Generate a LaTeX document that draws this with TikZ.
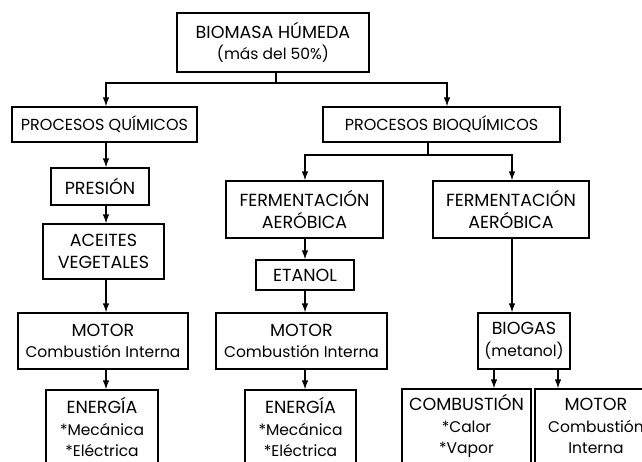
\documentclass[tikz,border=0pt]{standalone}
\usepackage{fontspec}
\setmainfont{Poppins}
\usetikzlibrary{arrows.meta,calc}
\newcommand{\capl}[1]{{\fontsize{17.5}{21.5}\selectfont #1}}
\newcommand{\lowl}[1]{{\fontsize{15.5}{21.5}\selectfont #1}}
\begin{document}
\begin{tikzpicture}[x=1pt,y=-1pt,
  box/.style={draw, line width=1.2pt, rectangle, align=center, inner sep=0pt,
    font=\fontsize{15.5}{21.5}\selectfont},
  arr/.style={line width=1.2pt, -{Latex[length=9pt,width=6.5pt]}},
  ln/.style={line width=1.2pt}]
\useasboundingbox (0,0) rectangle (642,461);
\clip (0,0) rectangle (642,461);
% boxes
\node[box, minimum width=192pt, minimum height=59pt] (bio) at (273,42.5) {\capl{BIOMASA HÚMEDA}\\\lowl{(más del 50\%)}};
\node[box, minimum width=185pt, minimum height=35pt] (pq) at (104.5,124.5) {\fontsize{16}{20}\selectfont PROCESOS QUÍMICOS};
\node[box, minimum width=237pt, minimum height=35pt] (pb) at (441.5,124.5) {\fontsize{16}{20}\selectfont PROCESOS BIOQUÍMICOS};
\node[box, minimum width=98pt, minimum height=37pt] (pres) at (100,186.5) {\capl{PRESIÓN}};
\node[box, minimum width=121pt, minimum height=55pt] (ace) at (103.5,251.5) {\capl{ACEITES}\\\capl{VEGETALES}};
\node[box, minimum width=170pt, minimum height=56pt] (mot1) at (103,341) {\capl{MOTOR}\\\lowl{Combustión Interna}};
\node[box, minimum width=112pt, minimum height=74pt] (ene1) at (102,427) {\capl{ENERGÍA}\\\lowl{*Mecánica}\\\lowl{*Eléctrica}};
\node[box, minimum width=157pt, minimum height=57pt] (fa1) at (304.5,209.5) {\capl{FERMENTACIÓN}\\\capl{AERÓBICA}};
\node[box, minimum width=156pt, minimum height=57pt] (fa2) at (511,209.5) {\capl{FERMENTACIÓN}\\\capl{AERÓBICA}};
\node[box, minimum width=98pt, minimum height=30pt] (eta) at (305,275) {\capl{ETANOL}};
\node[box, minimum width=171pt, minimum height=56pt] (mot2) at (301.5,341) {\capl{MOTOR}\\\lowl{Combustión Interna}};
\node[box, minimum width=111pt, minimum height=74pt] (ene2) at (300.5,427) {\capl{ENERGÍA}\\\lowl{*Mecánica}\\\lowl{*Eléctrica}};
\node[box, minimum width=92pt, minimum height=56pt] (biog) at (524,341) {\capl{BIOGAS}\\\lowl{(metanol)}};
\node[box, minimum width=129pt, minimum height=74pt] (comb) at (466.5,426) {\capl{COMBUSTIÓN}\\\lowl{*Calor}\\\lowl{*Vapor}};
\node[box, minimum width=122pt, minimum height=74pt] (mot3) at (596,426) {\capl{MOTOR}\\\lowl{Combustión}\\\lowl{Interna}};
% column references
\coordinate (cA) at (106,0);
\coordinate (cB) at (305,0);
\coordinate (cBio) at (276,83);
\coordinate (cPb) at (428,155);
\coordinate (cPbR) at (447,0);
\coordinate (cF2) at (512,0);
\coordinate (cG1) at (494,0);
\coordinate (cG2) at (558,0);
% connectors
\draw[ln] (bio.south -| cBio) -- (cBio);
\draw[arr] (cBio) -| (pq.north -| cA);
\draw[arr] (cBio) -| (pb.north -| cPbR);
\draw[arr] (pq.south -| cA) -- (pres.north -| cA);
\draw[arr] (pres.south -| cA) -- (ace.north -| cA);
\draw[arr] (ace.south -| cA) -- (mot1.north -| cA);
\draw[arr] (mot1.south -| cA) -- (ene1.north -| cA);
\draw[ln] (pb.south -| cPb) -- (cPb);
\draw[arr] (cPb) -| (fa1.north -| cB);
\draw[arr] (cPb) -| (fa2.north -| cF2);
\draw[arr] (fa1.south -| cB) -- (eta.north -| cB);
\draw[arr] (eta.south -| cB) -- (mot2.north -| cB);
\draw[arr] (mot2.south -| cB) -- (ene2.north -| cB);
\draw[arr] (fa2.south -| cF2) -- (biog.north -| cF2);
\draw[arr] (biog.south -| cG1) -- (comb.north -| cG1);
\draw[arr] (biog.south -| cG2) -- (mot3.north -| cG2);
\end{tikzpicture}
\end{document}
